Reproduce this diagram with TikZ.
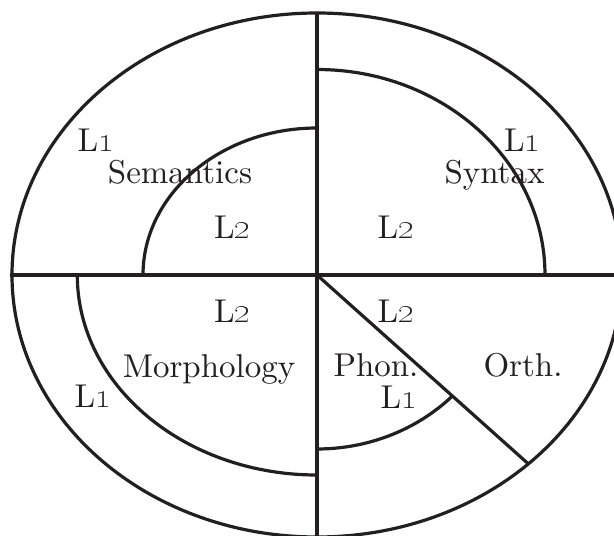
\documentclass[tikz,border=0pt]{standalone}
\usepackage{tikz}
\definecolor{ink}{HTML}{231F20}
\font\lblfont="[lmroman10-regular.otf]" at 33pt
\newcommand{\Lone}{L\oldstylenums{1}}
\newcommand{\Ltwo}{L\oldstylenums{2}}

\begin{document}
\begin{tikzpicture}[x=1pt,y=1pt,
  ring/.style={draw=ink,line width=3.2pt},
  lbl/.style={anchor=base,inner sep=0pt,text=ink,font=\fontsize{33}{40}\selectfont\lblfont}]
  \useasboundingbox (-317,-261) rectangle (297,275);
  \clip (-317,-261) rectangle (297,275);

  % outer ellipse and axes
  \draw[ring] (0,0) ellipse[x radius=305,y radius=262];
  \coordinate (c) at (0,0);
  \coordinate (west) at (-307,0);
  \coordinate (east) at (300,0);
  \coordinate (north) at (0,262);
  \coordinate (south) at (0,-262);
  \coordinate (rim) at (210.7,-188.3);
  \draw[ring] (west) -- (east);
  \draw[ring] (north) -- (south);
  \draw[ring] (c) -- (rim);

  % inner L2 rings
  \draw[ring] (0,147) arc[start angle=90,end angle=180,x radius=174,y radius=147];
  \draw[ring] (0,205.5) arc[start angle=90,end angle=0,x radius=228,y radius=205.5];
  \draw[ring] (-239.7,0) arc[start angle=180,end angle=270,x radius=239.7,y radius=200];
  \draw[ring] (0,-174) arc[start angle=270,end angle=315.6,x radius=188.4,y radius=174];

  % labels
  \foreach \nm/\x/\y/\txt in {semL1/-221/123/\Lone, sem/-137/92/Semantics, semL2/-84.5/37/\Ltwo,
      synL1/205.5/123/\Lone, syn/177.5/92/Syntax, synL2/79/37/\Ltwo,
      morL2/-84.5/-47/\Ltwo, mor/-108/-102/Morphology, morL1/-224/-132/\Lone,
      phoL2/79/-47/\Ltwo, pho/59/-101/Phon., phoL1/82/-133/\Lone,
      ort/206/-101/Orth.}
    \node[lbl] (\nm) at (\x,\y) {\txt};
\end{tikzpicture}
\end{document}
